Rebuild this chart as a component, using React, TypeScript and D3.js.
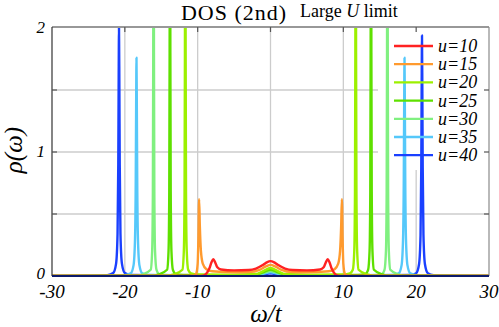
import React from 'react';
import {scaleLinear, line, curveMonotoneX} from 'd3';

// axis ticks
const xTicks = [-30, -20, -10, 0, 10, 20, 30];
const yTicks = [0, 1, 2];
const xGrid = [-20, -10, 0, 10, 20];
const yGrid = [0.5, 1, 1.5];

const seriesNames = ['u=10', 'u=15', 'u=20', 'u=25', 'u=30', 'u=35', 'u=40'];

// [omega, rho]
const u10: [number, number][] = [
    [-30, 0], [-10, 0], [-9.3, 0.003], [-8.8, 0.02], [-8.4, 0.06], [-8.1, 0.11], [-7.85, 0.135], [-7.6, 0.11],
    [-7.3, 0.07], [-6.8, 0.052], [-5, 0.045], [-3, 0.048], [-2, 0.06], [-1, 0.09], [-0.5, 0.11], [0, 0.12],
    [0.5, 0.11], [1, 0.09], [2, 0.06], [3, 0.048], [5, 0.045], [6.8, 0.052], [7.3, 0.07], [7.6, 0.11],
    [7.85, 0.135], [8.1, 0.11], [8.4, 0.06], [8.8, 0.02], [9.3, 0.003], [10, 0], [30, 0],
];
const u15: [number, number][] = [
    [-30, 0], [-10.6, 0], [-10.2, 0.02], [-10.0, 0.1], [-9.9, 0.3], [-9.8, 0.62], [-9.7, 0.4], [-9.55, 0.2],
    [-9.3, 0.1], [-8.8, 0.055], [-8, 0.038], [-5, 0.03], [-3, 0.032], [-1.5, 0.05], [-0.7, 0.075], [0, 0.09],
    [0.7, 0.075], [1.5, 0.05], [3, 0.032], [5, 0.03], [8, 0.038], [8.8, 0.055], [9.3, 0.1], [9.55, 0.2],
    [9.7, 0.4], [9.8, 0.62], [9.9, 0.3], [10.0, 0.1], [10.2, 0.02], [10.6, 0], [30, 0],
];
const u20: [number, number][] = [
    [-30, 0], [-14, 0.003], [-13.3, 0.012], [-12.1, 0.05], [-11.9, 0.2], [-11.8, 0.68], [-11.75, 1.8], [-11.7, 4],
    [-11.65, 1.8], [-11.6, 0.68], [-11.5, 0.2], [-11.3, 0.05], [-10.9, 0.02], [-10, 0.012], [-5, 0.01],
    [-2, 0.016], [-1, 0.04], [0, 0.065], [1, 0.04], [2, 0.016], [5, 0.01], [10, 0.012], [10.9, 0.02],
    [11.3, 0.05], [11.5, 0.2], [11.6, 0.68], [11.65, 1.8], [11.7, 4], [11.75, 1.8], [11.8, 0.68], [11.9, 0.2],
    [12.1, 0.05], [13.3, 0.012], [14, 0.003], [30, 0],
];
const u25: [number, number][] = [
    [-30, 0], [-16, 0.003], [-15.4, 0.012], [-14.2, 0.05], [-14.0, 0.2], [-13.9, 0.68], [-13.85, 1.8], [-13.8, 4],
    [-13.75, 1.8], [-13.7, 0.68], [-13.6, 0.2], [-13.4, 0.05], [-13.0, 0.015], [-12, 0.009], [-5, 0.007],
    [-2, 0.012], [-1, 0.03], [0, 0.05], [1, 0.03], [2, 0.012], [5, 0.007], [12, 0.009], [13.0, 0.015],
    [13.4, 0.05], [13.6, 0.2], [13.7, 0.68], [13.75, 1.8], [13.8, 4], [13.85, 1.8], [13.9, 0.68], [14.0, 0.2],
    [14.2, 0.05], [15.4, 0.012], [16, 0.003], [30, 0],
];
const u30: [number, number][] = [
    [-30, 0], [-18.2, 0.003], [-17.6, 0.012], [-16.45, 0.05], [-16.25, 0.2], [-16.15, 0.68], [-16.1, 1.8], [-16.05, 4],
    [-16.0, 1.8], [-15.95, 0.68], [-15.85, 0.2], [-15.65, 0.05], [-15.2, 0.012], [-14, 0.007], [-5, 0.005],
    [-2, 0.01], [-1, 0.025], [0, 0.04], [1, 0.025], [2, 0.01], [5, 0.005], [14, 0.007], [15.2, 0.012],
    [15.65, 0.05], [15.85, 0.2], [15.95, 0.68], [16.0, 1.8], [16.05, 4], [16.1, 1.8], [16.15, 0.68], [16.25, 0.2],
    [16.45, 0.05], [17.6, 0.012], [18.2, 0.003], [30, 0],
];
const u35: [number, number][] = [
    [-30, 0], [-20.4, 0.004], [-19.2, 0.021], [-18.8, 0.088], [-18.6, 0.3], [-18.5, 0.79], [-18.45, 1.34], [-18.4, 1.76],
    [-18.35, 1.34], [-18.3, 0.79], [-18.2, 0.3], [-18.0, 0.088], [-17.6, 0.021], [-16.8, 0.008], [-5, 0.004],
    [-2, 0.008], [-1, 0.018], [0, 0.03], [1, 0.018], [2, 0.008], [5, 0.004], [16.8, 0.008], [17.6, 0.021],
    [18.0, 0.088], [18.2, 0.3], [18.3, 0.79], [18.35, 1.34], [18.4, 1.76], [18.45, 1.34], [18.5, 0.79], [18.6, 0.3],
    [18.8, 0.088], [19.2, 0.021], [20.4, 0.004], [30, 0],
];
const u40: [number, number][] = [
    [-30, 0.001], [-24, 0.002], [-22.4, 0.006], [-21.6, 0.024], [-21.2, 0.1], [-21.0, 0.34], [-20.9, 0.9], [-20.85, 1.52],
    [-20.8, 2.0], [-20.75, 1.52], [-20.7, 0.9], [-20.6, 0.34], [-20.4, 0.1], [-20.0, 0.024], [-19.2, 0.008],
    [-10, 0.004], [-2, 0.008], [-0.8, 0.015], [0, 0.022], [0.8, 0.015], [2, 0.008], [10, 0.004], [19.2, 0.008],
    [20.0, 0.023], [20.4, 0.097], [20.6, 0.33], [20.7, 0.87], [20.75, 1.47], [20.8, 1.94], [20.85, 1.47],
    [20.9, 0.87], [21.0, 0.33], [21.2, 0.097], [21.6, 0.023], [22.4, 0.006], [24, 0.002], [30, 0.001],
];

const seriesData = [u10, u15, u20, u25, u30, u35, u40];
const colors = ['#ff2222', '#ff9a2e', '#9cf000', '#5ee000', '#80f080', '#55c8fa', '#1a40ff'];

const spec = {width: 499, height: 327, left: 52, right: 489, top: 28, bottom: 276};
const serif = 'Liberation Serif';

const App = () => {
    let x = scaleLinear().domain([-30, 30]).range([spec.left, spec.right]);
    let y = scaleLinear().domain([0, 2]).range([spec.bottom, spec.top]);
    let l = line<[number, number]>().x(d => x(d[0])).y(d => y(d[1])).curve(curveMonotoneX);

    let legend = {x0: 378, y0: spec.top, x1: spec.right, y1: 170, first: 46, step: 18.2};

    return (
        <svg width={spec.width} height={spec.height} style={{position: 'absolute', left: 0, top: 0}}>
            <defs>
                <clipPath id="plot">
                    <rect x={spec.left} y={spec.top} width={spec.right - spec.left} height={spec.bottom - spec.top}/>
                </clipPath>
            </defs>
            <rect width={spec.width} height={spec.height} fill="#fff"/>

            <text x={181} y={20} fontFamily={serif} fontSize={22} textLength={105}>DOS (2nd)</text>
            <text x={300} y={17} fontFamily={serif} fontSize={18}>
                Large <tspan fontStyle="italic">U</tspan> limit
            </text>

            <g stroke="#cccccc" strokeWidth={1.3}>
                {xGrid.map(t => <line key={t} x1={x(t)} x2={x(t)} y1={spec.top} y2={spec.bottom}/>)}
                {yGrid.map(t => <line key={t} x1={spec.left} x2={spec.right} y1={y(t)} y2={y(t)}/>)}
            </g>

            <rect x={legend.x0} y={legend.y0} width={legend.x1 - legend.x0} height={legend.y1 - legend.y0} fill="#fff"/>

            <g clipPath="url(#plot)" fill="none" strokeWidth={2.4} strokeLinejoin="round">
                {seriesData.slice().reverse().map((s, i) => {
                    let k = seriesData.length - 1 - i;
                    return <path key={k} d={l(s) || ''} stroke={colors[k]}/>;
                })}
            </g>

            <g>
                {seriesNames.map((n, i) => {
                    let cy = legend.first + i * legend.step;
                    return <g key={n}>
                        <line x1={394} x2={433} y1={cy} y2={cy} stroke={colors[i]} strokeWidth={2.3}/>
                        <text x={438} y={cy + 6} fontFamily={serif} fontStyle="italic" fontSize={18}>{n}</text>
                    </g>;
                })}
            </g>

            <g strokeWidth={1.2}>
                <line x1={spec.left} x2={spec.right} y1={spec.top - 1} y2={spec.top - 1} stroke="#333"/>
                <line x1={spec.right} x2={spec.right} y1={spec.top - 1} y2={spec.bottom} stroke="#8a8a8a"/>
                <line x1={spec.left} x2={spec.left} y1={spec.top - 1} y2={spec.bottom} stroke="#333"/>
                {xGrid.map(t => <line key={'t' + t} x1={x(t)} x2={x(t)} y1={spec.top - 1} y2={spec.top + 4} stroke="#555"/>)}
                {yGrid.map(t => <line key={'l' + t} x1={spec.left} x2={spec.left + 5} y1={y(t)} y2={y(t)} stroke="#555"/>)}
                {yGrid.map(t => <line key={'r' + t} x1={spec.right - 5} x2={spec.right} y1={y(t)} y2={y(t)} stroke="#555"/>)}
                <line x1={spec.left} x2={spec.right} y1={spec.bottom} y2={spec.bottom} stroke="#0d1a6a" strokeWidth={2}/>
            </g>

            <g fontFamily={serif} fontStyle="italic">
                {yTicks.map(t => <text key={t} x={45} y={y(t) + (t === 0 ? 3 : 5)} textAnchor="end" fontSize={17}>{t}</text>)}
                {xTicks.map(t => <text key={t} x={x(t)} y={298} textAnchor="middle" fontSize={19}>{t}</text>)}
            </g>

            <text transform="translate(22,150) rotate(-90)" textAnchor="middle" fontFamily={serif}
                  fontStyle="italic" fontSize={25}>ρ(ω)</text>
            <text x={266} y={322} textAnchor="middle" fontFamily={serif} fontStyle="italic" fontSize={25}>ω/t</text>
        </svg>
    );
};

export default App;
